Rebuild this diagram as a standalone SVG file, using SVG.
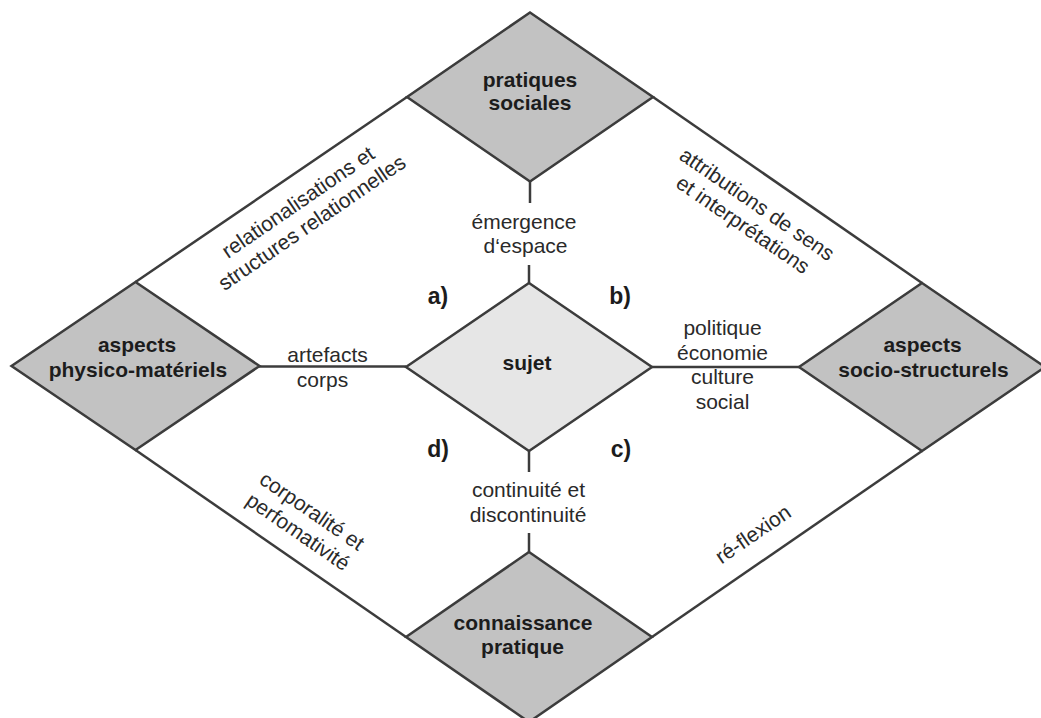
<svg xmlns="http://www.w3.org/2000/svg" width="1041" height="718" viewBox="0 0 1041 718">
<style>
.node{fill:#c2c2c2;stroke:#3c3c3c;stroke-width:2.5;stroke-linejoin:miter}
.center{fill:#e6e6e6;stroke:#3c3c3c;stroke-width:2.5}
.ln{stroke:#3c3c3c;stroke-width:2.5;fill:none}
.lbl{font-family:"Liberation Sans",Arial,sans-serif;font-size:21px;font-weight:bold;fill:#1c1c1c;text-anchor:middle}
.txt{font-family:"Liberation Sans",Arial,sans-serif;font-size:21px;fill:#2a2a2a;text-anchor:middle}
.let{font-family:"Liberation Sans",Arial,sans-serif;font-size:23px;font-weight:bold;fill:#1c1c1c;text-anchor:middle}
</style>
<rect width="1041" height="718" fill="#ffffff"/>
<g id="connectors">
<line class="ln" x1="407" y1="97" x2="135.5" y2="282"/>
<line class="ln" x1="653" y1="97" x2="922" y2="283"/>
<line class="ln" x1="135.5" y1="450" x2="406" y2="637"/>
<line class="ln" x1="922" y1="451" x2="652" y2="637"/>
<line class="ln" x1="530" y1="181" x2="530" y2="203"/>
<line class="ln" x1="529" y1="265" x2="529" y2="283"/>
<line class="ln" x1="529" y1="451" x2="529" y2="472"/>
<line class="ln" x1="529" y1="533" x2="529" y2="552"/>
<line class="ln" x1="259" y1="366.5" x2="406" y2="366.5"/>
<line class="ln" x1="652" y1="367" x2="799" y2="367"/>
</g>
<g id="edge-labels">
<text class="txt" transform="translate(302,208) rotate(-34.5)">relationalisations et</text>
<text class="txt" transform="translate(316,228.5) rotate(-34.5)">structures relationnelles</text>
<text class="txt" transform="translate(753,210) rotate(34.5)">attributions de sens</text>
<text class="txt" transform="translate(739,230.5) rotate(34.5)">et interprétations</text>
<text class="txt" transform="translate(308,517) rotate(34.5)">corporalité et</text>
<text class="txt" transform="translate(294,537.5) rotate(34.5)">perfomativité</text>
<text class="txt" transform="translate(757,540) rotate(-34.5)">ré-flexion</text>
<text class="txt" x="524" y="229">émergence</text>
<text class="txt" x="525.5" y="253">d‘espace</text>
<text class="txt" x="528.5" y="497">continuité et</text>
<text class="txt" x="528" y="522">discontinuité</text>
<text class="txt" x="327.5" y="361.5">artefacts</text>
<text class="txt" x="322.5" y="387">corps</text>
<text class="txt" x="722.5" y="335">politique</text>
<text class="txt" x="722.5" y="359.5">économie</text>
<text class="txt" x="722.5" y="384">culture</text>
<text class="txt" x="722.5" y="409">social</text>
<text class="let" x="438" y="304">a)</text>
<text class="let" x="620" y="304">b)</text>
<text class="let" x="621" y="457">c)</text>
<text class="let" x="438" y="457">d)</text>
</g>
<g id="node-pratiques-sociales">
<polygon class="node" points="530,12.5 653,97 530,181.5 407,97"/>
<text class="lbl" x="530" y="87">pratiques</text>
<text class="lbl" x="530" y="110">sociales</text>
</g>
<g id="node-aspects-physico-materiels">
<polygon class="node" points="135.5,282 259.5,366 135.5,450 11.5,366"/>
<text class="lbl" x="137" y="352">aspects</text>
<text class="lbl" x="138" y="376.5">physico-matériels</text>
</g>
<g id="node-aspects-socio-structurels">
<polygon class="node" points="922,283 1045,367 922,451 799,367"/>
<text class="lbl" x="922.5" y="352">aspects</text>
<text class="lbl" x="923.5" y="376.5">socio-structurels</text>
</g>
<g id="node-connaissance-pratique">
<polygon class="node" points="529,552 652,637 529,722 406,637"/>
<text class="lbl" x="523" y="630">connaissance</text>
<text class="lbl" x="522.5" y="654">pratique</text>
</g>
<g id="node-sujet">
<polygon class="center" points="529,283 652,367 529,451 406,367"/>
<text class="lbl" x="527" y="370">sujet</text>
</g>
</svg>
